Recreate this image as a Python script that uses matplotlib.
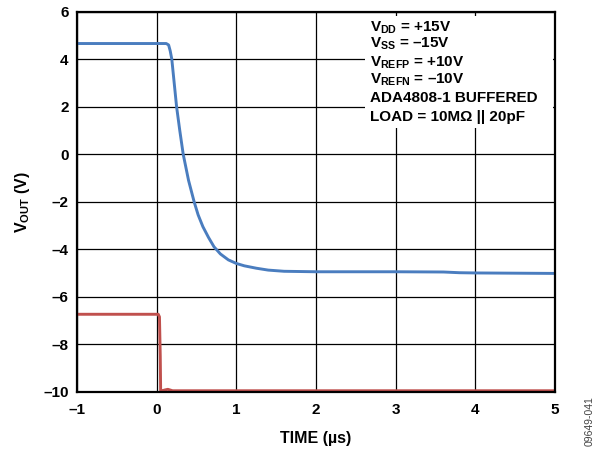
import matplotlib
matplotlib.use("Agg")
import matplotlib.pyplot as plt
from matplotlib.patches import Rectangle

plt.rcParams['font.family'] = ['Liberation Sans', 'DejaVu Sans']
plt.rcParams['font.weight'] = 'bold'
plt.rcParams['mathtext.fontset'] = 'custom'
plt.rcParams['mathtext.rm'] = 'Liberation Sans:bold'
plt.rcParams['mathtext.it'] = 'Liberation Sans:bold'
plt.rcParams['mathtext.bf'] = 'Liberation Sans:bold'

# Data
blue_t = [-1, 0.12, 0.15, 0.17, 0.19, 0.22, 0.25, 0.29, 0.333, 0.40, 0.47, 0.52, 0.58,
          0.65, 0.72, 0.80, 0.90, 1.0, 1.1, 1.25, 1.4, 1.6, 2.0, 3.0, 3.6, 3.8, 4.0, 5.0]
blue_v = [4.66, 4.66, 4.6, 4.35, 4.0, 3.0, 2.0, 1.0, 0.0, -1.1, -2.0, -2.55, -3.05,
          -3.5, -3.9, -4.2, -4.45, -4.6, -4.7, -4.8, -4.88, -4.93, -4.95, -4.95, -4.96, -4.99, -5.0, -5.02]
red_t = [-1, 0.02, 0.035, 0.045, 0.05, 0.06, 0.1, 0.14, 0.2, 5]
red_v = [-6.74, -6.74, -6.85, -8.5, -9.97, -9.97, -9.93, -9.9, -9.96, -9.96]

x_ticks = [-1, 0, 1, 2, 3, 4, 5]
y_ticks = [-10, -8, -6, -4, -2, 0, 2, 4, 6]

box_lines = [r"$V_{DD}$ = +15V", r"$V_{SS}$ = –15V", r"$V_{REFP}$ = +10V",
             r"$V_{REFN}$ = –10V", "ADA4808-1 BUFFERED", "LOAD = 10MΩ || 20pF"]
box_y = [5.18, 4.47, 3.68, 2.97, 2.21, 1.41]

def lab(v):
    return str(v).replace('-', '–')

fig = plt.figure(figsize=(6.03, 4.5), dpi=100)
ax = fig.add_axes([77/603, 1 - 391.7/450, (555 - 77)/603, (391.7 - 11.7)/450])

ax.plot(blue_t, blue_v, color='#4a7dbf', lw=2.1, zorder=3, solid_joinstyle='round')
ax.plot(red_t, red_v, color='#c0504d', lw=2.1, zorder=3, solid_joinstyle='round')

ax.set_xlim(-1, 5)
ax.set_ylim(-10, 6)
ax.set_xticks(x_ticks)
ax.set_xticklabels([lab(v) for v in x_ticks])
ax.set_yticks(y_ticks)
ax.set_yticklabels([lab(v) for v in y_ticks])
ax.tick_params(length=0, labelsize=11)
ax.tick_params(axis='x', pad=8)
ax.tick_params(axis='y', pad=6)
ax.set_axisbelow(True)
ax.grid(True, color='black', lw=0.9)
for s in ax.spines.values():
    s.set_linewidth(1.6)
    s.set_zorder(5)

ax.add_patch(Rectangle((2.61, 1.09), 4.97 - 2.61, 5.82 - 1.09, facecolor='white',
                       edgecolor='none', zorder=1))
for t, y in zip(box_lines, box_y):
    ax.text(2.68, y, t, fontsize=11, fontweight='bold', va='baseline', ha='left', zorder=4)

ax.set_xlabel("TIME (µs)", fontsize=11.5, fontweight='bold', labelpad=10)
ax.set_ylabel(r"$V_{OUT}$ (V)", fontsize=11.5, fontweight='bold', labelpad=8)

fig.text(590/603, 1 - 421/450, "09649-041", rotation=90, fontsize=7.5,
         fontweight='normal', color='#444444', ha='center', va='center')

fig.savefig("out.png", dpi=100)
